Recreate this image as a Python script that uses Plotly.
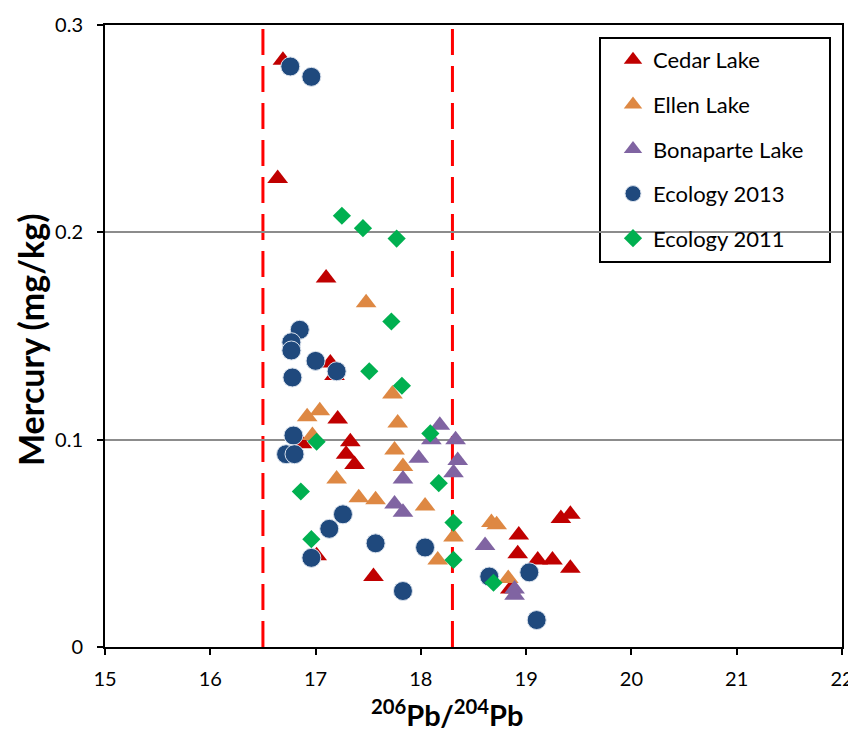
import plotly.graph_objects as go

# ---- data ----
cedar_x = [16.69, 16.64, 17.10, 17.14, 17.18, 17.21, 17.33, 17.29, 17.37, 16.87, 17.01, 17.55,
           18.93, 18.92, 19.11, 19.25, 19.33, 19.42, 19.42, 18.85]
cedar_y = [0.283, 0.226, 0.178, 0.137, 0.131, 0.110, 0.099, 0.093, 0.088, 0.098, 0.044, 0.034,
           0.054, 0.045, 0.042, 0.042, 0.062, 0.064, 0.038, 0.028]

ellen_x = [17.48, 17.73, 16.92, 17.04, 16.97, 17.78, 17.75, 17.83, 17.20, 17.41, 17.57, 18.04,
           18.31, 18.16, 18.67, 18.72, 18.83]
ellen_y = [0.166, 0.122, 0.111, 0.114, 0.102, 0.108, 0.095, 0.087, 0.081, 0.072, 0.071, 0.068,
           0.053, 0.042, 0.060, 0.059, 0.033]

bona_x = [18.18, 18.10, 18.33, 18.35, 18.31, 17.98, 17.83, 17.75, 17.83, 18.61, 18.89, 18.89]
bona_y = [0.107, 0.100, 0.100, 0.090, 0.084, 0.091, 0.081, 0.069, 0.065, 0.049, 0.028, 0.025]

eco13_x = [16.76, 16.96, 16.85, 16.77, 16.77, 17.00, 17.20, 16.78, 16.79, 16.72, 16.80, 17.26,
           17.13, 16.96, 17.57, 18.04, 17.83, 18.65, 19.03, 19.10]
eco13_y = [0.280, 0.275, 0.153, 0.147, 0.143, 0.138, 0.133, 0.130, 0.102, 0.093, 0.093, 0.064,
           0.057, 0.043, 0.050, 0.048, 0.027, 0.034, 0.036, 0.013]

eco11_x = [17.25, 17.45, 17.77, 17.72, 17.51, 17.82, 17.01, 16.86, 16.96, 18.09, 18.17, 18.31,
           18.31, 18.69]
eco11_y = [0.208, 0.202, 0.197, 0.157, 0.133, 0.126, 0.099, 0.075, 0.052, 0.103, 0.079, 0.060,
           0.042, 0.031]

threshold_x = [16.5, 18.3]
x_ticks = [15, 16, 17, 18, 19, 20, 21, 22]
y_ticks = [0, 0.1, 0.2, 0.3]

FONT = "Lato"

fig = go.Figure()

series = [
    ("Cedar Lake", cedar_x, cedar_y, "triangle-up", "#C00000", 18, 0, "rgba(0,0,0,0)"),
    ("Ellen Lake", ellen_x, ellen_y, "triangle-up", "#DE8843", 18, 0, "rgba(0,0,0,0)"),
    ("Bonaparte Lake", bona_x, bona_y, "triangle-up", "#8064A2", 18, 0, "rgba(0,0,0,0)"),
    ("Ecology 2013", eco13_x, eco13_y, "circle", "#1F497D", 19, 1, "#D9E1EC"),
    ("Ecology 2011", eco11_x, eco11_y, "diamond", "#00B050", 14, 0, "rgba(0,0,0,0)"),
]
for name, xs, ys, sym, col, size, lw, lc in series:
    fig.add_trace(go.Scatter(
        x=xs, y=ys, mode="markers", name=name, legendgroup=name,
        marker=dict(symbol=sym, color=col, size=size, line=dict(width=lw, color=lc)),
    ))

for tx in threshold_x:
    fig.add_shape(type="line", xref="x", yref="y", x0=tx, x1=tx, y0=0, y1=0.3,
                  line=dict(color="#FF0000", width=3, dash="26px,11px"), layer="below")

# plot area (page px): left 105, right 842, top 25, bottom 647 ; page has an 8px body offset
PW, PH = 737, 622
fig.add_shape(type="rect", xref="paper", yref="paper",
              x0=(600 - 105) / PW, x1=(830 - 105) / PW,
              y0=(647 - 262) / PH, y1=(647 - 38) / PH,
              line=dict(color="black", width=2), fillcolor="white", layer="below")

# axis titles
fig.add_annotation(text="<b><sup>206</sup>Pb/<sup>204</sup>Pb</b>", xref="paper", yref="paper",
                   x=(447 - 105) / PW, y=(647 - 713) / PH, xanchor="center", yanchor="middle",
                   showarrow=False, font=dict(family=FONT, size=29, color="black"))
fig.add_annotation(text="<b>Mercury (mg/kg)</b>", xref="paper", yref="paper",
                   x=(31 - 105) / PW, y=(647 - 340) / PH, xanchor="center", yanchor="middle",
                   textangle=-90, showarrow=False, font=dict(family=FONT, size=34, color="black"))

fig.update_layout(
    width=848, height=726,
    margin=dict(l=97, r=14, t=17, b=87, autoexpand=False),
    paper_bgcolor="white", plot_bgcolor="white",
    font=dict(family=FONT, color="black"),
    legend=dict(
        x=(613 - 105) / PW, y=(647 - 39) / PH, xanchor="left", yanchor="top",
        bgcolor="rgba(0,0,0,0)", borderwidth=0,
        font=dict(family=FONT, size=22, color="black"),
        tracegroupgap=13, traceorder="grouped", itemsizing="trace",
    ),
    xaxis=dict(
        range=[15, 22], tickvals=x_ticks, ticks="outside", ticklen=6, tickwidth=2,
        tickcolor="black", showline=True, linecolor="black", linewidth=2, mirror=True,
        showgrid=False, zeroline=False, tickfont=dict(family=FONT, size=20),
        automargin=False, ticklabelstandoff=7,
    ),
    yaxis=dict(
        range=[0, 0.3], tickvals=y_ticks, ticks="outside", ticklen=6, tickwidth=2,
        tickcolor="black", showline=True, linecolor="black", linewidth=2, mirror=True,
        showgrid=True, gridcolor="#8C8C8C", gridwidth=1.5, zeroline=False,
        tickfont=dict(family=FONT, size=20), automargin=False,
        ticklabelstandoff=10,
    ),
)

fig.write_html("out.html")
